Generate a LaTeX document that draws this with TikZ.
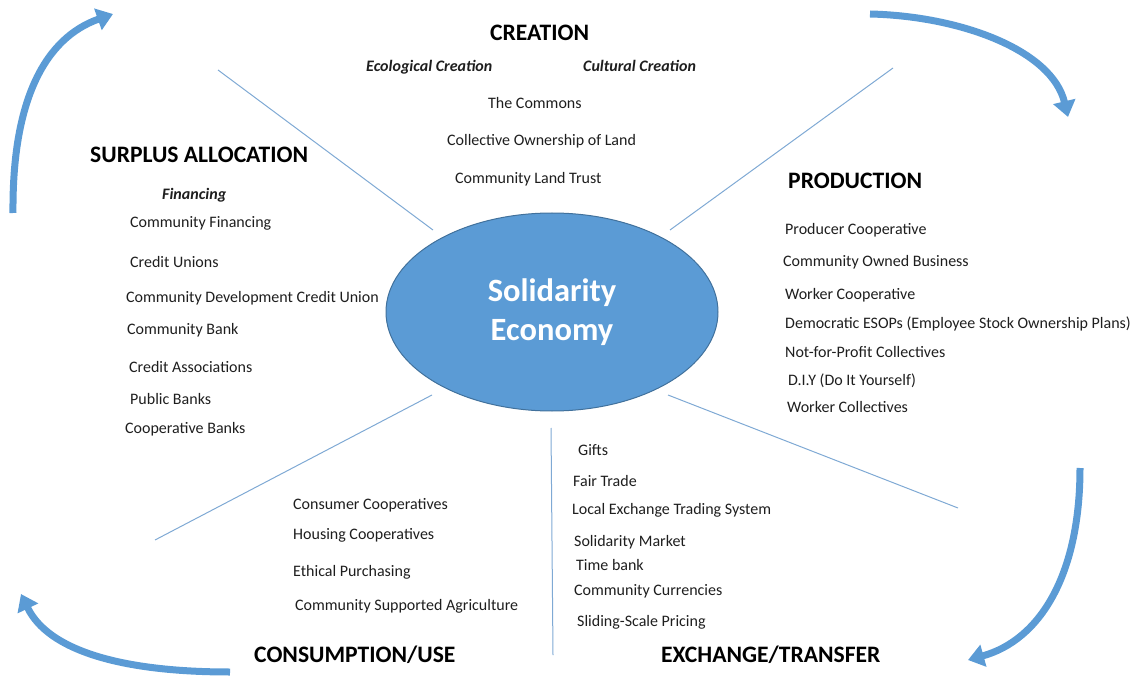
\documentclass[tikz,border=0pt]{standalone}
\usepackage{fontspec}
\setmainfont{Carlito}
\usetikzlibrary{shapes.geometric,arrows.meta}
\definecolor{obl}{HTML}{5B9BD5}
\definecolor{obd}{HTML}{41719C}
\definecolor{thin}{HTML}{7FA9D4}
\definecolor{txt}{HTML}{1E1E1E}
\tikzset{
  item/.style={anchor=base west,inner sep=0pt,yshift=-5pt,text=txt,font=\fontsize{16}{19}\selectfont},
  sub/.style={anchor=base west,inner sep=0pt,yshift=-5pt,text=txt,font=\fontsize{16}{19}\selectfont\bfseries\itshape},
  head/.style={anchor=base west,inner sep=0pt,yshift=-7.5pt,text=black,font=\fontsize{23.6}{28}\selectfont\bfseries},
  spoke/.style={draw=thin,line width=1pt},
  cyc/.style={draw=obl,line width=7pt,-{Triangle[width=22pt,length=16pt]}},
}
\begin{document}
\begin{tikzpicture}[x=1pt,y=-1pt]
\useasboundingbox (0,0) rectangle (1138,679);
% spokes
\coordinate (s1a) at (218,70);  \coordinate (s1b) at (433,230);
\coordinate (s2a) at (893,68);  \coordinate (s2b) at (670,230);
\coordinate (s3a) at (155,540); \coordinate (s3b) at (432,395);
\coordinate (s4a) at (958,508); \coordinate (s4b) at (668,395);
\coordinate (s5a) at (553,655); \coordinate (s5b) at (551,428);
\draw[spoke] (s1a) -- (s1b);
\draw[spoke] (s2a) -- (s2b);
\draw[spoke] (s3a) -- (s3b);
\draw[spoke] (s4a) -- (s4b);
\draw[spoke] (s5a) -- (s5b);
% centre
\node[ellipse,fill=obl,draw=obd,line width=1pt,minimum width=332pt,minimum height=198pt,inner sep=0pt,
      text=white,font=\fontsize{32.5}{39}\selectfont\bfseries,align=center] (se) at (552,312) {Solidarity\\Economy};
% cycle arrows
\coordinate (a1s) at (13,213);   \coordinate (a1e) at (113,14);
\coordinate (a2s) at (870,14);   \coordinate (a2e) at (1068,117);
\coordinate (a3s) at (1080,468); \coordinate (a3e) at (968,660);
\coordinate (a4s) at (230,672);  \coordinate (a4e) at (21,594);
\draw[cyc] (a1s) .. controls (12,100) and (45,38) .. (a1e);
\draw[cyc] (a2s) .. controls (960,16) and (1052,50) .. (a2e);
\draw[cyc] (a3s) .. controls (1080,575) and (1040,640) .. (a3e);
\draw[cyc] (a4s) .. controls (120,672) and (48,650) .. (a4e);
% CREATION
\node[head] (hcr) at (490,33) {CREATION};
\node[sub] (eco) at (366,67) {Ecological Creation};
\node[sub] (cul) at (583,67) {Cultural Creation};
\node[item] (c1) at (488,104) {The Commons};
\node[item] (c2) at (447,141) {Collective Ownership of Land};
\node[item] (c3) at (455,179) {Community Land Trust};
% SURPLUS
\node[head] (hsa) at (90,155) {SURPLUS ALLOCATION};
\node[sub] (fin) at (162,195) {Financing};
\node[item] (f1) at (130,223) {Community Financing};
\node[item] (f2) at (130,262) {Credit Unions};
\node[item] (f3) at (126,297) {Community Development Credit Union};
\node[item] (f4) at (127,329) {Community Bank};
\node[item] (f5) at (129,367) {Credit Associations};
\node[item] (f6) at (130,399) {Public Banks};
\node[item] (f7) at (125,428) {Cooperative Banks};
% PRODUCTION
\node[head] (hpr) at (788,181) {PRODUCTION};
\node[item] (p1) at (785,230) {Producer Cooperative};
\node[item] (p2) at (783,261) {Community Owned Business};
\node[item] (p3) at (785,294) {Worker Cooperative};
\node[item] (p4) at (785,323) {Democratic ESOPs (Employee Stock Ownership Plans)};
\node[item] (p5) at (785,352) {Not-for-Profit Collectives};
\node[item] (p6) at (788,380) {D.I.Y (Do It Yourself)};
\node[item] (p7) at (787,407) {Worker Collectives};
% EXCHANGE
\node[item] (e1) at (578,450) {Gifts};
\node[item] (e2) at (573,481) {Fair Trade};
\node[item] (e3) at (572,509) {Local Exchange Trading System};
\node[item] (e4) at (574,541) {Solidarity Market};
\node[item] (e5) at (576,565) {Time bank};
\node[item] (e6) at (574,590) {Community Currencies};
\node[item] (e7) at (577,621) {Sliding-Scale Pricing};
\node[head] (hex) at (661,655) {EXCHANGE/TRANSFER};
% CONSUMPTION
\node[item] (u1) at (293,504) {Consumer Cooperatives};
\node[item] (u2) at (293,534) {Housing Cooperatives};
\node[item] (u3) at (293,571) {Ethical Purchasing};
\node[item] (u4) at (295,605) {Community Supported Agriculture};
\node[head] (hcu) at (254,655) {CONSUMPTION/USE};
\end{tikzpicture}
\end{document}
